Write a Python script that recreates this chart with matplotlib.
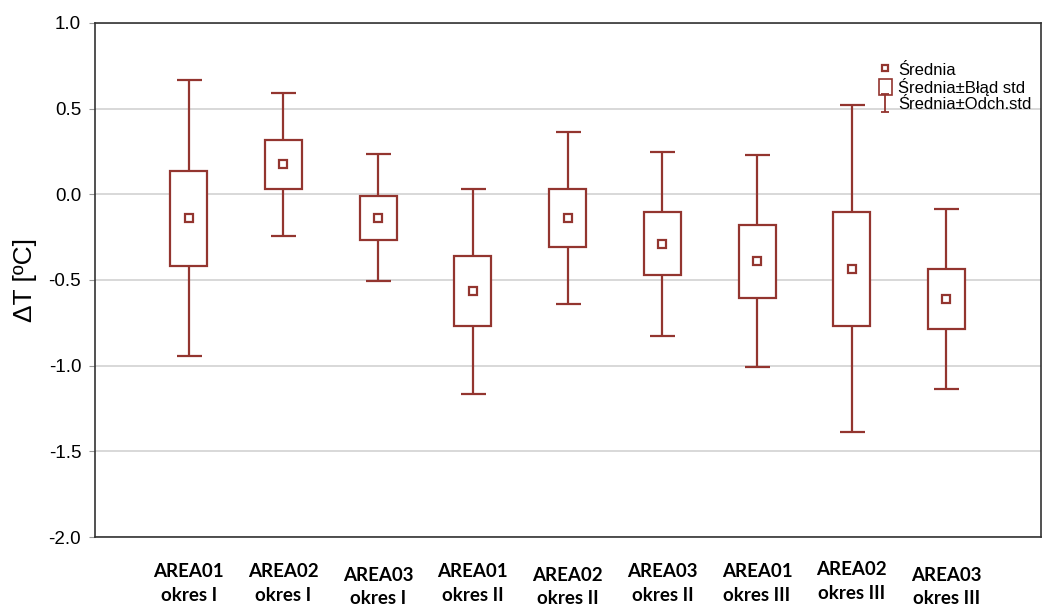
import numpy as np
import matplotlib.pyplot as plt
from matplotlib.patches import Rectangle
from matplotlib.lines import Line2D
from matplotlib.path import Path
import matplotlib.transforms as mtransforms

# dane: srednia, blad standardowy, odchylenie standardowe
labels = ['AREA01\nokres I', 'AREA02\nokres I', 'AREA03\nokres I',
          'AREA01\nokres II', 'AREA02\nokres II', 'AREA03\nokres II',
          'AREA01\nokres III', 'AREA02\nokres III', 'AREA03\nokres III']
mean = [-0.140, 0.175, -0.138, -0.565, -0.138, -0.290, -0.390, -0.435, -0.612]
se = [0.278, 0.143, 0.128, 0.204, 0.169, 0.184, 0.213, 0.333, 0.177]
sd = [0.805, 0.417, 0.371, 0.598, 0.502, 0.537, 0.620, 0.955, 0.525]
# przesuniecie podpisow w pionie (pt), jak w oryginale
lab_shift = [0, 0, -2.5, 0, -2.5, 0, 0, 1.5, -2.5]

col = '#93352f'
x = np.arange(len(labels))
mean = np.array(mean)
se = np.array(se)
sd = np.array(sd)

fig = plt.figure(figsize=(10.42, 6.07), dpi=100)
ax = fig.add_axes([0.0912, 0.1153, 0.908, 0.847])

eb = ax.errorbar(x, mean, yerr=sd, fmt='none', ecolor=col, elinewidth=1.6,
                 capsize=9, capthick=1.6, zorder=2)
bars = ax.bar(x, 2 * se, bottom=mean - se, width=0.39, facecolor='white',
              edgecolor=col, linewidth=1.6, zorder=3)
pts, = ax.plot(x, mean, 's', ms=6, mfc='white', mec=col, mew=1.6, zorder=4)

ax.set_xlim(-0.99, 9.0)
ax.set_ylim(-2.0, 1.0)
ax.set_yticks([-2.0, -1.5, -1.0, -0.5, 0.0, 0.5, 1.0])
ax.set_yticklabels(['-2.0', '-1.5', '-1.0', '-0.5', '0.0', '0.5', '1.0'],
                   family='Liberation Sans', fontsize=13.5)
ax.set_xticks(x)
ax.set_xticklabels([])
ax.tick_params(axis='x', length=0)
ax.tick_params(axis='y', length=4, color='#999999', pad=6)
ax.yaxis.grid(True, color='#d8d8d8', linewidth=1.4)
ax.set_axisbelow(True)
for s in ax.spines.values():
    s.set_color('#333333')
    s.set_linewidth(1.2)

trans = mtransforms.blended_transform_factory(ax.transData, ax.transAxes)
for xi, lab, dy in zip(x, labels, lab_shift):
    off = mtransforms.offset_copy(trans, fig=fig, x=0, y=-19 + dy, units='points')
    ax.text(xi, 0, lab, transform=off, ha='center', va='top', family='Lato',
            fontweight='bold', fontsize=13.5, linespacing=1.45)

ax.set_ylabel('ΔT [ºC]', family='Liberation Sans', fontsize=19, labelpad=8)

# ikona "I" dla odchylenia standardowego w legendzie
ibar = Path([(-0.45, 1), (0.45, 1), (0, 1), (0, -1), (-0.45, -1), (0.45, -1)],
            [Path.MOVETO, Path.LINETO, Path.MOVETO, Path.LINETO, Path.MOVETO, Path.LINETO])
sd_handle = Line2D([], [], marker=ibar, linestyle='none', ms=13, mec=col,
                   mfc='none', mew=1.3)
handles = [pts, Rectangle((0, 0), 1, 1, facecolor='white', edgecolor=col, linewidth=1.2), sd_handle]
leg = ax.legend(handles, ['Średnia', 'Średnia±Błąd std', 'Średnia±Odch.std'],
                loc='upper right', bbox_to_anchor=(1.0, 0.945), frameon=False,
                prop={'family': 'Liberation Sans', 'size': 12},
                handlelength=0.8, handleheight=1.1, handletextpad=0.35,
                labelspacing=0.0, borderaxespad=0.2)
leg.legend_handles[0].set_markersize(5)

fig.savefig('out.png', dpi=100)
